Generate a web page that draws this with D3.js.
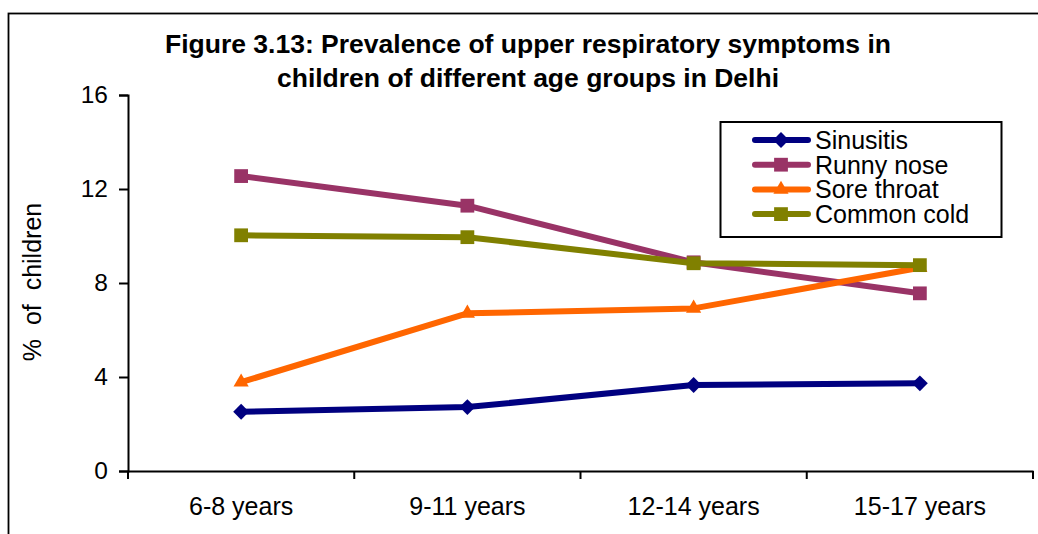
<!DOCTYPE html>
<html>
<head>
<meta charset="utf-8">
<script src="https://cdn.jsdelivr.net/npm/d3@7"></script>
<style>
  body { margin: 0; background: #fff; }
  text { font-family: "Liberation Sans", Arial, sans-serif; }
</style>
</head>
<body>
<div class="chart"></div>
<script>
const categories = ["6-8 years", "9-11 years", "12-14 years", "15-17 years"];
const yTicks = [0, 4, 8, 12, 16];
const sinusitis = [2.52, 2.72, 3.66, 3.73];
const runnyNose = [12.55, 11.29, 8.88, 7.56];
const soreThroat = [3.78, 6.71, 6.92, 8.65];
const commonCold = [10.03, 9.95, 8.84, 8.76];
const titleLines = [
  "Figure 3.13: Prevalence of upper respiratory symptoms in",
  "children of different age groups in Delhi"
];

const series = [
  { name: "Sinusitis", values: sinusitis, color: "#000080", marker: "diamond" },
  { name: "Runny nose", values: runnyNose, color: "#993366", marker: "square" },
  { name: "Sore throat", values: soreThroat, color: "#FF6600", marker: "triangle" },
  { name: "Common cold", values: commonCold, color: "#808000", marker: "square" }
];

const width = 1038;
const height = 534;
const plot = { left: 128, right: 1033, top: 95, bottom: 471 };

const svg = d3.select(".chart")
  .append("svg")
  .attr("width", width)
  .attr("height", height);

// outer frame (cut off on right and bottom in the picture)
svg.append("rect")
  .attr("x", 8.5)
  .attr("y", 13.5)
  .attr("width", 1100)
  .attr("height", 600)
  .attr("fill", "none")
  .attr("stroke", "#000")
  .attr("stroke-width", 1.8);

// title
svg.append("text")
  .attr("text-anchor", "middle")
  .style("font-size", "26.5px")
  .style("font-weight", "bold")
  .selectAll("tspan")
  .data(titleLines)
  .enter()
  .append("tspan")
  .attr("x", 528)
  .attr("y", (d, i) => 53 + i * 34)
  .text(d => d);

const x = d3.scaleBand()
  .domain(categories)
  .range([plot.left, plot.right]);

const y = d3.scaleLinear()
  .domain([0, 16])
  .range([plot.bottom, plot.top]);

// y axis
const yAxis = svg.append("g")
  .attr("transform", `translate(${plot.left},0)`)
  .call(d3.axisLeft(y).tickValues(yTicks).tickSize(9).tickPadding(11));
yAxis.selectAll("text")
  .style("font-size", "24.5px")
  .attr("fill", "#000");
yAxis.selectAll("line, path").attr("stroke", "#000").attr("stroke-width", 2);

// x axis: labels at band centres, ticks at band edges
const xAxis = svg.append("g")
  .attr("transform", `translate(0,${plot.bottom})`)
  .call(d3.axisBottom(x).tickSize(0).tickPadding(26));
xAxis.select(".domain").attr("stroke", "#000").attr("stroke-width", 2);
xAxis.selectAll("text")
  .style("font-size", "25px")
  .attr("fill", "#000");

const edges = categories.map(d => x(d)).concat([x.range()[1]]);
xAxis.selectAll("line.edge")
  .data(edges)
  .enter()
  .append("line")
  .attr("class", "edge")
  .attr("x1", d => d)
  .attr("x2", d => d)
  .attr("y1", 0)
  .attr("y2", 8)
  .attr("stroke", "#000")
  .attr("stroke-width", 2);

// y axis title
svg.append("text")
  .attr("transform", "translate(41,282) rotate(-90)")
  .attr("text-anchor", "middle")
  .style("font-size", "25px")
  .style("white-space", "pre")
  .text("%  of  children");

function markerPath(type) {
  if (type === "diamond") return d3.symbol().type(d3.symbolDiamond2).size(160)();
  if (type === "triangle") return d3.symbol().type(d3.symbolTriangle).size(100)();
  return d3.symbol().type(d3.symbolSquare).size(190)();
}

const line = d3.line()
  .x((d, i) => x(categories[i]) + x.bandwidth() / 2)
  .y(d => y(d));

series.forEach(s => {
  const g = svg.append("g");
  g.append("path")
    .attr("d", line(s.values))
    .attr("fill", "none")
    .attr("stroke", s.color)
    .attr("stroke-width", 6)
    .attr("stroke-linejoin", "round");
  g.selectAll("path.mark")
    .data(s.values)
    .enter()
    .append("path")
    .attr("class", "mark")
    .attr("d", markerPath(s.marker))
    .attr("transform", (d, i) => `translate(${x(categories[i]) + x.bandwidth() / 2},${y(d)})`)
    .attr("fill", s.color);
});

// legend
const legend = svg.append("g");
legend.append("rect")
  .attr("x", 720.5)
  .attr("y", 122)
  .attr("width", 281)
  .attr("height", 115)
  .attr("fill", "#fff")
  .attr("stroke", "#000")
  .attr("stroke-width", 2);

const rows = legend.selectAll("g.row")
  .data(series)
  .enter()
  .append("g")
  .attr("class", "row")
  .attr("transform", (d, i) => `translate(0,${140 + i * 24.7})`);

rows.append("line")
  .attr("x1", 755)
  .attr("x2", 808)
  .attr("stroke", d => d.color)
  .attr("stroke-width", 6)
  .attr("stroke-linecap", "round");
rows.append("path")
  .attr("d", d => markerPath(d.marker))
  .attr("transform", "translate(781,0)")
  .attr("fill", d => d.color);
rows.append("text")
  .attr("x", 815)
  .attr("y", 9)
  .style("font-size", "25px")
  .text(d => d.name);
</script>
</body>
</html>
